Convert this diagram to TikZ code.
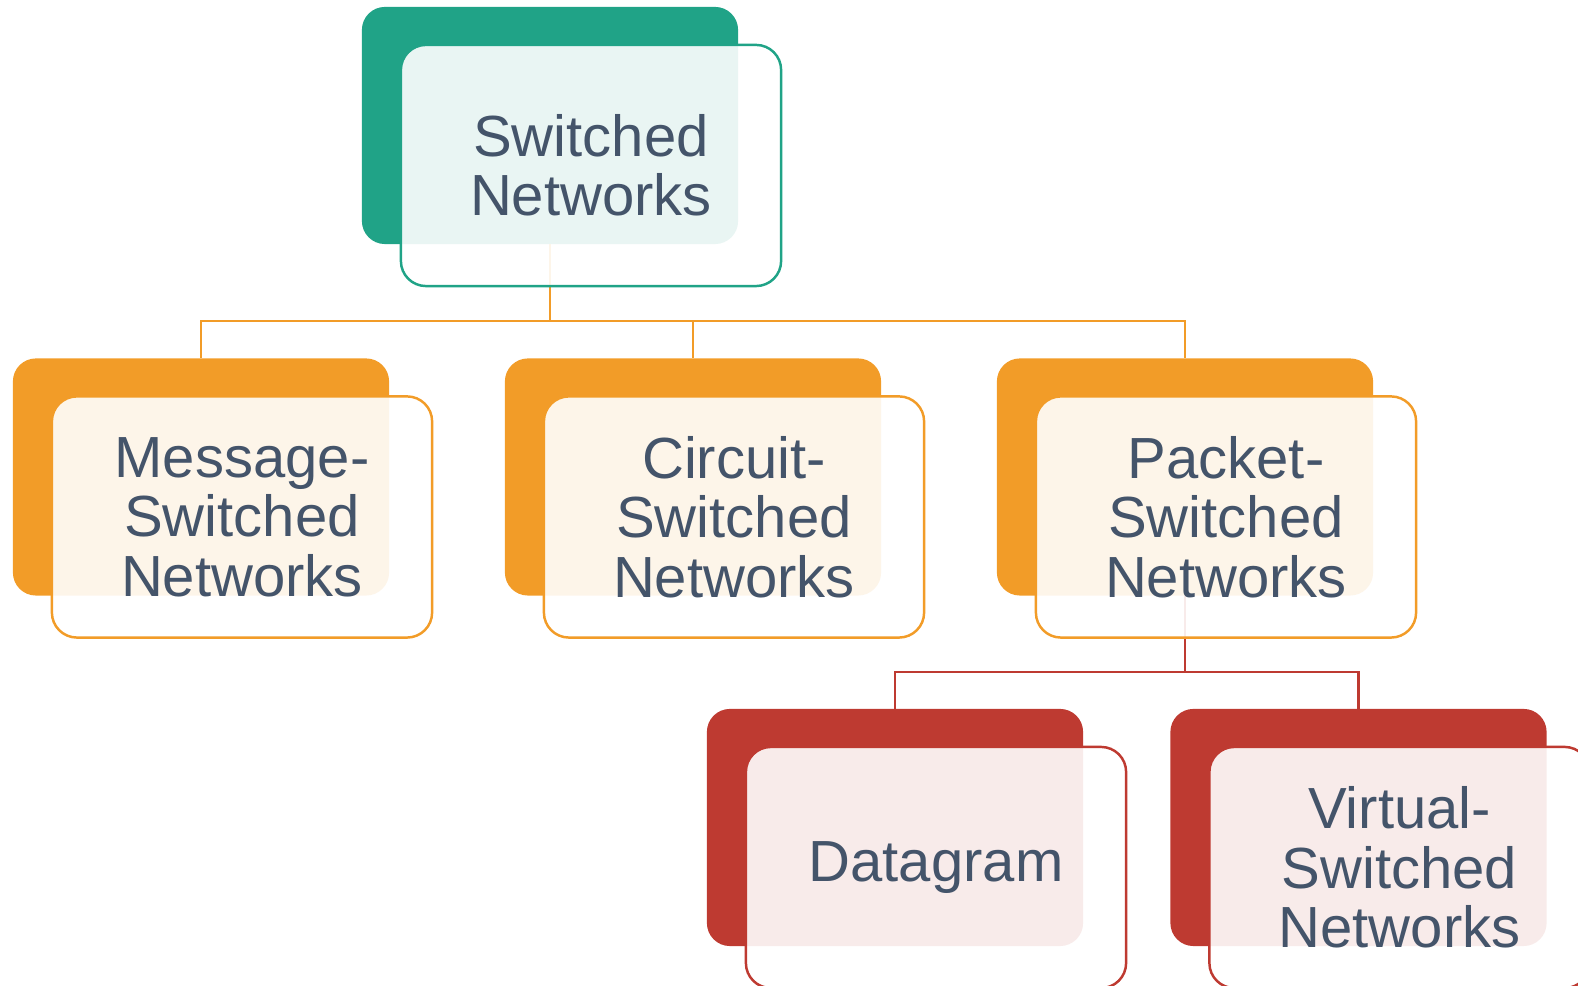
\documentclass[tikz,border=0pt]{standalone}
\usepackage{fontspec}
\setmainfont{Liberation Sans}
\usetikzlibrary{calc}
\definecolor{swgreen}{RGB}{32,163,135}
\definecolor{sworange}{RGB}{242,156,40}
\definecolor{swred}{RGB}{190,58,49}
\definecolor{swtext}{RGB}{68,84,106}

\begin{document}
\begin{tikzpicture}[x=0.01cm,y=-0.01cm,
    back/.style={fill=#1,rounded corners=0.23cm,minimum width=3.76cm,
      minimum height=2.37cm,inner sep=0pt,outer sep=0pt},
    front/.style={draw=#1,line width=0.7pt,fill=white,fill opacity=0.9,
      text opacity=1,rounded corners=0.25cm,minimum width=3.8cm,
      minimum height=2.41cm,inner sep=0pt,outer sep=0pt,align=center,
      text=swtext,font=\fontsize{16.5}{16.9}\selectfont},
    bus/.style={draw=#1,line width=0.75pt}]
  \useasboundingbox (0,0) rectangle (1578,986);
  \clip (0,0) rectangle (1578,986);
  % coloured cards behind
  \node[back=swgreen]  (swback)  at (550,125.5) {};
  \node[back=sworange] (msgback) at (201,477) {};
  \node[back=sworange] (cirback) at (693,477) {};
  \node[back=sworange] (pktback) at (1185,477) {};
  \node[back=swred]    (dgmback) at (895,827.5) {};
  \node[back=swred]    (virback) at (1358.5,827.5) {};
  % tree lines
  \coordinate (obus) at (550,321);
  \coordinate (rbus) at (1185,672);
  \draw[bus=sworange] (swback.south) -- (obus) -| (msgback.north);
  \draw[bus=sworange] (obus) -| (cirback.north);
  \draw[bus=sworange] (obus) -| (pktback.north);
  \draw[bus=swred] (pktback.south) -- (rbus) -| (dgmback.north);
  \draw[bus=swred] (rbus) -| (virback.north);
  % labelled cards in front
  \node[front=swgreen]  (sw)  at ([shift={(41,40)}]swback.center) {Switched\\Networks};
  \node[front=sworange] (msg) at ([shift={(41,40)}]msgback.center) {Message-\\Switched\\Networks};
  \node[front=sworange] (cir) at ([shift={(41,40)}]cirback.center) {Circuit-\\Switched\\Networks};
  \node[front=sworange] (pkt) at ([shift={(41,40)}]pktback.center) {Packet-\\Switched\\Networks};
  \node[front=swred]    (dgm) at ([shift={(41,40)}]dgmback.center) {Datagram};
  \node[front=swred]    (vir) at ([shift={(41,40)}]virback.center) {Virtual-\\Switched\\Networks};
\end{tikzpicture}
\end{document}
